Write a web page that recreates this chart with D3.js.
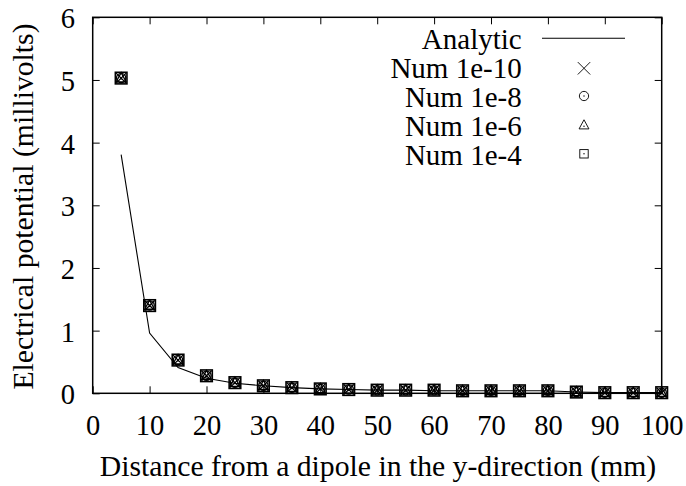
<!DOCTYPE html>
<html>
<head>
<meta charset="utf-8">
<script src="https://cdn.jsdelivr.net/npm/d3@7"></script>
<style>
  html, body { margin: 0; padding: 0; background: #fff; }
  svg { display: block; }
  text { font-family: "Liberation Serif", "Times New Roman", serif; fill: #000; }
</style>
</head>
<body>
<div id="chart"></div>
<script>
// ---- data ----
const distances = [5, 10, 15, 20, 25, 30, 35, 40, 45, 50, 55, 60, 65, 70, 75, 80, 85, 90, 95, 100];
const analytic  = [3.81, 0.96, 0.41, 0.24, 0.16, 0.12, 0.09, 0.07, 0.06, 0.05, 0.05, 0.04, 0.04, 0.04, 0.04, 0.04, 0.02, 0.01, 0.01, 0.01];
const num1e10   = [5.03, 1.40, 0.53, 0.28, 0.17, 0.12, 0.09, 0.07, 0.06, 0.05, 0.05, 0.05, 0.04, 0.04, 0.04, 0.04, 0.02, 0.01, 0.01, 0.01];
const num1e8    = [5.03, 1.40, 0.53, 0.28, 0.17, 0.12, 0.09, 0.07, 0.06, 0.05, 0.05, 0.05, 0.04, 0.04, 0.04, 0.04, 0.02, 0.01, 0.01, 0.01];
const num1e6    = [5.03, 1.40, 0.53, 0.28, 0.17, 0.12, 0.09, 0.07, 0.06, 0.05, 0.05, 0.05, 0.04, 0.04, 0.04, 0.04, 0.02, 0.01, 0.01, 0.01];
const num1e4    = [5.03, 1.40, 0.53, 0.28, 0.17, 0.12, 0.09, 0.07, 0.06, 0.05, 0.05, 0.05, 0.04, 0.04, 0.04, 0.04, 0.02, 0.01, 0.01, 0.01];
const xTicks = [0, 10, 20, 30, 40, 50, 60, 70, 80, 90, 100];
const yTicks = [0, 1, 2, 3, 4, 5, 6];
const seriesNames = ["Analytic", "Num 1e-10", "Num 1e-8", "Num 1e-6", "Num 1e-4"];
const xLabel = "Distance from a dipole in the y-direction (mm)";
const yLabel = "Electrical potential (millivolts)";

// ---- layout ----
const W = 686, H = 486;
const L = 92.7, R = 661.7, T = 17.3, B = 393.3;
const FS_TICK = 28.5, FS_LEG = 29, FS_LAB = 29.7;

const svg = d3.select("#chart").append("svg").attr("width", W).attr("height", H);
const x = d3.scaleLinear().domain([0, 100]).range([L, R]);
const y = d3.scaleLinear().domain([0, 6]).range([B, T]);

const tickLen = 7;
const fmt = d3.format("d");
const gx = svg.append("g").attr("transform", `translate(0,${B})`)
  .call(d3.axisBottom(x).tickValues(xTicks).tickFormat(fmt).tickSizeInner(-tickLen).tickSizeOuter(0));
const gxTop = svg.append("g").attr("transform", `translate(0,${T})`)
  .call(d3.axisTop(x).tickValues(xTicks).tickSizeInner(-tickLen).tickSizeOuter(0).tickFormat(""));
const gy = svg.append("g").attr("transform", `translate(${L},0)`)
  .call(d3.axisLeft(y).tickValues(yTicks).tickFormat(fmt).tickSizeInner(-tickLen).tickSizeOuter(0));
const gyR = svg.append("g").attr("transform", `translate(${R},0)`)
  .call(d3.axisRight(y).tickValues(yTicks).tickSizeInner(-tickLen).tickSizeOuter(0).tickFormat(""));

[gx, gxTop, gy, gyR].forEach(g => {
  g.select(".domain").remove();
  g.selectAll(".tick line").attr("stroke", "#000").attr("stroke-width", 1);
  g.selectAll("text").style("font-family", '"Liberation Serif", serif').style("font-size", FS_TICK + "px").attr("fill", "#000");
});
gx.selectAll(".tick text").attr("y", 435 - B).attr("dy", 0);
gy.selectAll(".tick text").attr("x", 75 - L).attr("dy", 0).attr("y", 10.5);

// frame
svg.append("rect").attr("x", L).attr("y", T).attr("width", R - L).attr("height", B - T)
  .attr("fill", "none").attr("stroke", "#000").attr("stroke-width", 1.5);

// axis labels
svg.append("text").attr("x", 378).attr("y", 476).attr("text-anchor", "middle")
  .style("font-size", FS_LAB + "px").text(xLabel);
svg.append("text").attr("transform", "translate(33,206.5) rotate(-90)").attr("text-anchor", "middle")
  .style("font-size", FS_LAB + "px").text(yLabel);

// analytic line
const line = d3.line().x((d, i) => x(distances[i])).y(d => y(d));
svg.append("path").datum(analytic).attr("d", line)
  .attr("fill", "none").attr("stroke", "#000").attr("stroke-width", 1.1);

// marker drawers
function drawCross(g, cx, cy, s, sw) {
  g.append("path").attr("d", `M${cx - s},${cy - s}L${cx + s},${cy + s}M${cx - s},${cy + s}L${cx + s},${cy - s}`)
    .attr("stroke", "#000").attr("stroke-width", sw).attr("fill", "none");
}
function drawCircle(g, cx, cy, s, sw) {
  g.append("circle").attr("cx", cx).attr("cy", cy).attr("r", s * 0.8).attr("stroke", "#000").attr("stroke-width", sw).attr("fill", "none");
  g.append("circle").attr("cx", cx).attr("cy", cy).attr("r", 0.7).attr("fill", "#000");
}
function drawTri(g, cx, cy, s, sw) {
  const h = s * 0.85;
  g.append("path").attr("d", `M${cx},${cy - h * 1.1}L${cx + h},${cy + h * 0.75}L${cx - h},${cy + h * 0.75}Z`)
    .attr("stroke", "#000").attr("stroke-width", sw).attr("fill", "none");
  g.append("circle").attr("cx", cx).attr("cy", cy + h * 0.2).attr("r", 0.7).attr("fill", "#000");
}
function drawSquare(g, cx, cy, s, sw) {
  const h = s * 0.7;
  g.append("rect").attr("x", cx - h).attr("y", cy - h).attr("width", 2 * h).attr("height", 2 * h)
    .attr("stroke", "#000").attr("stroke-width", sw).attr("fill", "none");
  g.append("circle").attr("cx", cx).attr("cy", cy).attr("r", 0.7).attr("fill", "#000");
}

const numSeries = [
  { vals: num1e10, draw: drawCross },
  { vals: num1e8,  draw: drawCircle },
  { vals: num1e6,  draw: drawTri },
  { vals: num1e4,  draw: drawSquare }
];
// plot markers (overlapping symbols, drawn boxy like the reference)
const mg = svg.append("g");
numSeries.forEach((s, k) => {
  s.vals.forEach((v, i) => {
    const cx = x(distances[i]), cy = y(v);
    if (k === 3) {
      mg.append("rect").attr("x", cx - 5.8).attr("y", cy - 5.8).attr("width", 11.6).attr("height", 11.6)
        .attr("stroke", "#000").attr("stroke-width", 1.6).attr("fill", "none");
    } else {
      s.draw(mg, cx, cy, k === 0 ? 5 : 5.8, 1.3);
    }
  });
});

// legend
const legTextX = 521.7;
const legBase = [48.5, 77.7, 106.9, 136.1, 165.3];
seriesNames.forEach((name, i) => {
  svg.append("text").attr("x", legTextX).attr("y", legBase[i])
    .attr("text-anchor", "end").style("font-size", FS_LEG + "px").text(name);
});
svg.append("line").attr("x1", 542).attr("x2", 625).attr("y1", legBase[0] - 10.2).attr("y2", legBase[0] - 10.2)
  .attr("stroke", "#000").attr("stroke-width", 1.1);
const legSym = [[6.2, 68.3], [5.8, 96], [5.8, 125.2], [6, 153.8]];
numSeries.forEach((s, i) => s.draw(svg, 584, legSym[i][1], legSym[i][0], 0.9));
</script>
</body>
</html>
